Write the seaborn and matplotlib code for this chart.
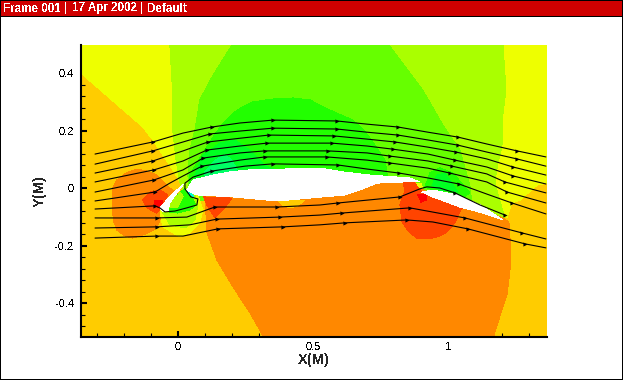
import matplotlib
matplotlib.use('Agg')
import matplotlib.pyplot as plt
from matplotlib.patches import Rectangle
from matplotlib.ticker import MultipleLocator, FuncFormatter
import pandas as pd
import seaborn as sns

# Contour bands, as boundaries (X, Y in metres)
yellow_left_x = [-0.359, 0.230, 0.230, 0.015, -0.019, -0.093, -0.130, -0.359]
yellow_left_y = [0.498, 0.498, -0.006, 0.011, 0.064, 0.168, 0.213, 0.400]
yellow_right_x = [1.156, 1.367, 1.367, 1.330, 1.267, 1.237, 1.219, 1.156]
yellow_right_y = [0.498, 0.498, 0.018, 0.011, -0.041, -0.051, -0.103, -0.006]
yellowgreen_x = [-0.030, 1.204, 1.215, 1.204, 1.200, 1.185, 1.174, 1.181, 1.211, 0.933, 0.452, 0.033, 0.007, -0.007, -0.019, -0.022]
yellowgreen_y = [0.498, 0.498, 0.341, 0.261, 0.143, 0.087, 0.022, -0.006, -0.103, -0.041, -0.041, -0.041, 0.022, 0.098, 0.202, 0.376]
lime_x = [0.200, 0.781, 0.907, 0.981, 1.044, 1.081, 1.089, 1.204, 0.933, 0.044, 0.037, 0.044, 0.063, 0.081, 0.130]
lime_y = [0.498, 0.498, 0.341, 0.220, 0.133, 0.011, -0.051, -0.110, -0.041, -0.041, 0.046, 0.133, 0.202, 0.307, 0.393]
green_x = [0.044, 0.070, 0.130, 0.167, 0.204, 0.241, 0.278, 0.348, 0.426, 0.489, 0.563, 0.648, 0.689, 0.722, 0.767, 0.778, 0.044]
green_y = [0.046, 0.088, 0.178, 0.226, 0.261, 0.284, 0.300, 0.310, 0.314, 0.307, 0.272, 0.237, 0.202, 0.161, 0.098, 0.029, -0.023]
bright_x = [0.063, 0.093, 0.156, 0.211, 0.267, 0.322, 0.359, 0.063]
bright_y = [0.046, 0.116, 0.157, 0.168, 0.133, 0.081, 0.064, -0.006]
spring_x = [0.100, 0.137, 0.174, 0.200, 0.219, 0.100]
spring_y = [0.057, 0.098, 0.116, 0.098, 0.064, 0.011]
flap_green_x = [0.915, 0.933, 0.970, 1.019, 1.081, 1.044]
flap_green_y = [0.005, 0.053, 0.071, 0.053, -0.016, -0.041]
flap_bright_x = [0.941, 0.959, 0.989, 1.015, 1.037, 0.970]
flap_bright_y = [0.011, 0.046, 0.053, 0.018, -0.013, -0.006]
orange_x = [0.107, 0.144, 0.204, 0.267, 0.315, 1.170, 1.200, 1.219, 1.230, 1.233, 1.226, 1.204, 1.130, 1.044, 0.944, 0.911, 0.889, 0.833, 0.737, 0.674, 0.452, 0.100, 0.104]
orange_y = [-0.152, -0.249, -0.343, -0.433, -0.513, -0.513, -0.423, -0.370, -0.284, -0.214, -0.117, -0.103, -0.079, -0.058, -0.023, -0.006, 0.018, 0.022, 0.018, 0.008, -0.006, -0.016, -0.093]
orange_left_x = [-0.244, -0.237, -0.226, -0.196, -0.167, -0.119, -0.078, -0.056, 0.007, -0.030, -0.078, -0.115, -0.152, -0.193, -0.226, -0.241, -0.244]
orange_left_y = [-0.075, -0.117, -0.145, -0.166, -0.173, -0.159, -0.138, -0.082, -0.023, 0.001, 0.046, 0.060, 0.067, 0.053, 0.029, 0.001, -0.023]
bump_x = [0.367, 0.389, 0.415, 0.444, 0.470]
bump_y = [-0.041, -0.061, -0.068, -0.061, -0.041]

# Bands in the slot under the slat
lobe_yellow_x = [-0.067, -0.056, 0.007, 0.044, 0.081, 0.093, 0.074, 0.007]
lobe_yellow_y = [-0.075, -0.134, -0.169, -0.155, -0.120, -0.075, -0.023, -0.023]
lobe_yg_x = [-0.056, -0.030, 0.026, 0.063, 0.074, 0.063, -0.011]
lobe_yg_y = [-0.086, -0.127, -0.138, -0.110, -0.058, -0.023, -0.023]
lobe_green_x = [-0.037, 0, 0.044, 0.067, 0.052, 0.026, 0]
lobe_green_y = [-0.082, -0.086, -0.075, -0.058, -0.034, 0.001, -0.023]
lobe_yg2_x = [-0.030, 0, 0.019, 0.007]
lobe_yg2_y = [-0.068, -0.065, -0.027, -0.013]
slot_cyan_x = [0.033, 0.052, 0.056, 0.041]
slot_cyan_y = [-0.006, -0.013, -0.027, -0.020]

# High pressure spots
slat_hot_x = [-0.130, -0.104, -0.067, -0.037, -0.067, -0.078, -0.115]
slat_hot_y = [-0.041, -0.013, -0.006, -0.023, -0.075, -0.086, -0.068]
slat_red_x = [-0.085, -0.059, -0.056, -0.074, -0.085]
slat_red_y = [-0.041, -0.041, -0.058, -0.068, -0.055]
main_hot_x = [0.096, 0.200, 0.174, 0.137, 0.107]
main_hot_y = [-0.030, -0.034, -0.068, -0.103, -0.058]
flap_hot_x = [0.833, 0.841, 0.822, 0.830, 0.856, 0.885, 0.933, 0.970, 0.996, 1.026, 1.044, 1.056, 0.944, 0.904, 0.881]
flap_hot_y = [0.022, -0.006, -0.058, -0.117, -0.152, -0.173, -0.176, -0.166, -0.152, -0.120, -0.082, -0.065, -0.030, -0.013, 0.018]
flap_red_x = [0.889, 0.919, 0.919, 0.900]
flap_red_y = [-0.023, -0.023, -0.041, -0.048]
te_yellow_x = [0.885, 0.900, 0.907, 0.893]
te_yellow_y = [0.018, 0.018, -0.002, 0.005]

# The three elements, blanked out of the field
main_x = [0.033, 0.056, 0.130, 0.193, 0.267, 0.526, 0.611, 0.711, 0.859, 0.896, 0.833, 0.737, 0.674, 0.619, 0.489, 0.367, 0.204, 0.070]
main_y = [-0.006, 0.029, 0.046, 0.057, 0.064, 0.070, 0.057, 0.046, 0.036, 0.022, 0.022, 0.018, -0.006, -0.023, -0.034, -0.044, -0.030, -0.023]
flap_x = [0.904, 0.944, 1.033, 1.119, 1.204, 1.130, 1.044, 0.944]
flap_y = [-0.013, -0.006, -0.023, -0.058, -0.110, -0.086, -0.065, -0.030]
slat_x = [0.022, -0.022, -0.067, -0.056, -0.037, -0.030, -0.007]
slat_y = [0.015, -0.020, -0.068, -0.082, -0.079, -0.051, -0.020]

# Streamlines
line1_x = [-0.307, -0.093, 0.019, 0.126, 0.230, 0.352, 0.589, 0.700, 0.815, 0.926, 1.037, 1.144, 1.256, 1.363]
line1_y = [0.119, 0.161, 0.192, 0.213, 0.227, 0.237, 0.234, 0.223, 0.213, 0.195, 0.178, 0.154, 0.130, 0.109]
line2_x = [-0.307, -0.093, 0.019, 0.119, 0.230, 0.352, 0.589, 0.700, 0.815, 0.926, 1.037, 1.144, 1.256, 1.363]
line2_y = [0.084, 0.130, 0.161, 0.189, 0.199, 0.209, 0.206, 0.195, 0.185, 0.168, 0.150, 0.126, 0.102, 0.077]
line3_x = [-0.307, -0.093, 0.019, 0.111, 0.230, 0.337, 0.578, 0.700, 0.804, 0.926, 1.030, 1.144, 1.241, 1.363]
line3_y = [0.053, 0.095, 0.130, 0.161, 0.174, 0.185, 0.182, 0.171, 0.161, 0.143, 0.126, 0.102, 0.074, 0.046]
line4_x = [-0.307, -0.089, 0.019, 0.107, 0.230, 0.330, 0.570, 0.700, 0.796, 0.926, 1.026, 1.144, 1.241, 1.363]
line4_y = [0.022, 0.064, 0.095, 0.133, 0.147, 0.157, 0.157, 0.147, 0.136, 0.119, 0.098, 0.074, 0.043, 0.015]
line5_x = [-0.307, -0.089, 0.019, 0.093, 0.230, 0.322, 0.556, 0.700, 0.785, 0.926, 1.015, 1.144, 1.211, 1.363]
line5_y = [-0.013, 0.029, 0.064, 0.105, 0.123, 0.130, 0.130, 0.123, 0.112, 0.095, 0.077, 0.050, 0.022, -0.016]
line6_x = [-0.307, -0.085, -0.030, 0.019, 0.089, 0.230, 0.322, 0.552, 0.700, 0.785, 0.926, 1.007, 1.144, 1.219, 1.363]
line6_y = [-0.044, -0.013, 0.018, 0.043, 0.077, 0.098, 0.109, 0.109, 0.098, 0.088, 0.070, 0.053, 0.022, -0.013, -0.051]
line7_x = [-0.307, -0.085, -0.067, -0.048, -0.011, 0.033, 0.070, 0.074, 0.048, 0.026, 0.026, 0.056, 0.126, 0.248, 0.352, 0.593, 0.700, 0.819, 0.926, 1.041, 1.144, 1.237, 1.363]
line7_y = [-0.072, -0.061, -0.068, -0.082, -0.079, -0.068, -0.058, -0.037, -0.030, -0.002, 0.018, 0.039, 0.060, 0.077, 0.085, 0.081, 0.067, 0.053, 0.036, 0.015, -0.020, -0.051, -0.089]
line8_x = [-0.307, -0.078, 0.033, 0.107, 0.137, 0.367, 0.526, 0.593, 0.822, 0.896, 0.922, 0.970, 1.026, 1.119, 1.211]
line8_y = [-0.103, -0.103, -0.100, -0.075, -0.065, -0.065, -0.058, -0.051, -0.030, -0.002, 0.005, 0.001, -0.016, -0.058, -0.093]
line9_x = [-0.307, -0.078, 0.044, 0.144, 0.378, 0.526, 0.607, 0.859, 1.063, 1.274, 1.363]
line9_y = [-0.138, -0.134, -0.127, -0.107, -0.100, -0.093, -0.086, -0.068, -0.103, -0.155, -0.176]
line10_x = [-0.307, -0.078, 0.019, 0.148, 0.389, 0.526, 0.619, 0.848, 0.944, 1.074, 1.285, 1.363]
line10_y = [-0.173, -0.166, -0.166, -0.141, -0.134, -0.127, -0.120, -0.110, -0.117, -0.141, -0.193, -0.207]

# Which vertices of each streamline carry an arrowhead
line1_arrows = [1, 3, 5, 6, 8, 10, 12]
line6_arrows = [1, 4, 6, 7, 9, 11, 13]
line7_arrows = [1, 12, 14, 15, 17, 19, 21]
line8_arrows = [1, 4, 5, 7, 8, 12, 14]
line9_arrows = [1, 3, 4, 6, 7, 8, 9]
line10_arrows = [1, 3, 4, 6, 7, 9, 10]

x_ticks = [0, 0.5, 1]
y_ticks = [-0.4, -0.2, 0, 0.2, 0.4]
header_items = ['Frame 001', '17 Apr 2002', 'Default']

AMBER = '#FFCC00'
YELLOW = '#EEFF00'
YELLOWGREEN = '#AAFF00'
LIME = '#66FF00'
GREEN = '#22FF00'
BRIGHT = '#00FF22'
SPRING = '#00FF66'
CYAN = '#00FFCC'
ORANGE = '#FF8800'
HOT = '#FF4400'
RED = '#FF0000'

sns.set_style('white')
plt.rcParams['font.family'] = ['Liberation Sans', 'DejaVu Sans']
plt.rcParams['text.antialiased'] = False
plt.rcParams['axes.unicode_minus'] = False

W, H = 623, 380
fig = plt.figure(figsize=(W / 100, H / 100), dpi=100, facecolor='white')


def box(left, top, right, bottom, color):
    # pixel box on the figure, for the frame around the plot
    fig.add_artist(Rectangle((left / W, 1 - bottom / H), (right - left) / W, (bottom - top) / H,
                             transform=fig.transFigure, facecolor=color, edgecolor='none',
                             antialiased=False))


# Frame and header bar
box(0, 0, 623, 1, 'black')
box(0, 0, 1, 380, 'black')
box(622, 0, 623, 380, 'black')
box(0, 379, 623, 380, 'black')
box(1, 1, 622, 16, '#D00000')
box(1, 16, 622, 17, 'black')
box(65, 2, 66, 14, 'white')
box(141, 2, 142, 14, 'white')
for item, px in zip(header_items, [3, 72, 147]):
    fig.text(px / W, 1 - 8.5 / H, item, color='white', fontsize=8.4, fontweight='bold', va='center', ha='left')

ax = fig.add_axes([81 / W, 1 - 336.5 / H, 466 / W, 291.5 / H])
ax.set_facecolor(AMBER)

bands = [
    (yellow_left_x, yellow_left_y, YELLOW),
    (yellow_right_x, yellow_right_y, YELLOW),
    (yellowgreen_x, yellowgreen_y, YELLOWGREEN),
    (lime_x, lime_y, LIME),
    (green_x, green_y, GREEN),
    (bright_x, bright_y, BRIGHT),
    (spring_x, spring_y, SPRING),
    (flap_green_x, flap_green_y, GREEN),
    (flap_bright_x, flap_bright_y, BRIGHT),
    (orange_x, orange_y, ORANGE),
    (orange_left_x, orange_left_y, ORANGE),
    (bump_x, bump_y, AMBER),
    (lobe_yellow_x, lobe_yellow_y, YELLOW),
    (lobe_yg_x, lobe_yg_y, YELLOWGREEN),
    (lobe_green_x, lobe_green_y, GREEN),
    (lobe_yg2_x, lobe_yg2_y, YELLOWGREEN),
    (slot_cyan_x, slot_cyan_y, CYAN),
    (slat_hot_x, slat_hot_y, HOT),
    (slat_red_x, slat_red_y, RED),
    (main_hot_x, main_hot_y, HOT),
    (flap_hot_x, flap_hot_y, HOT),
    (flap_red_x, flap_red_y, RED),
    (te_yellow_x, te_yellow_y, YELLOW),
    (main_x, main_y, 'white'),
    (flap_x, flap_y, 'white'),
    (slat_x, slat_y, 'white'),
]
for bx, by, color in bands:
    ax.fill(bx, by, color=color, linewidth=0, antialiased=False)

streamlines = [
    (line1_x, line1_y, line1_arrows),
    (line2_x, line2_y, line1_arrows),
    (line3_x, line3_y, line1_arrows),
    (line4_x, line4_y, line1_arrows),
    (line5_x, line5_y, line1_arrows),
    (line6_x, line6_y, line6_arrows),
    (line7_x, line7_y, line7_arrows),
    (line8_x, line8_y, line8_arrows),
    (line9_x, line9_y, line9_arrows),
    (line10_x, line10_y, line10_arrows),
]
for sx, sy, arrows in streamlines:
    df = pd.DataFrame({'x': sx, 'y': sy})
    sns.lineplot(data=df, x='x', y='y', sort=False, estimator=None, color='black', linewidth=0.8, ax=ax)
    heads = df.iloc[arrows]
    sns.scatterplot(data=heads, x='x', y='y', marker='>', s=9, color='black', linewidth=0, ax=ax, zorder=3)

ax.set_xlim(-0.359, 1.367)
ax.set_ylim(-0.515, 0.498)

# Tecplot style axes: only left and bottom, ticks pointing inwards
for side in ['top', 'right']:
    ax.spines[side].set_visible(False)
for side in ['left', 'bottom']:
    ax.spines[side].set_linewidth(1.5)
    ax.spines[side].set_color('black')
ax.set_xticks(x_ticks)
ax.set_yticks(y_ticks)
ax.xaxis.set_minor_locator(MultipleLocator(0.1))
ax.yaxis.set_minor_locator(MultipleLocator(0.04))
fmt = FuncFormatter(lambda v, pos: f'{v:g}')
ax.xaxis.set_major_formatter(fmt)
ax.yaxis.set_major_formatter(fmt)
ax.tick_params(which='major', direction='in', length=4.5, width=1.5, color='black', labelsize=8, labelcolor='black')
ax.tick_params(which='minor', direction='in', length=2.8, width=0.8, color='black')
ax.tick_params(axis='x', which='major', pad=4)
ax.tick_params(axis='y', which='major', pad=5)
ax.tick_params(axis='both', which='both', bottom=True, left=True)
ax.set_xlabel('X(M)', fontsize=10.5, fontweight='bold', labelpad=1)
ax.set_ylabel('Y(M)', fontsize=10.5, fontweight='bold', labelpad=6)

fig.savefig('out.png', dpi=100)
